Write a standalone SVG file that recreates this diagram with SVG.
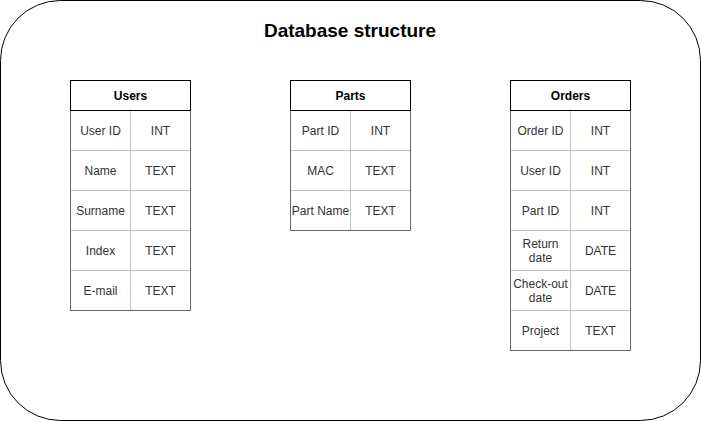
<svg xmlns="http://www.w3.org/2000/svg" width="701" height="421" viewBox="0 0 701 421">
<style>
.hdr{fill:#fff;stroke:#000;stroke-width:1}
.body{fill:#fff;stroke:#666;stroke-width:1}
.grid{stroke:#c0c0c0;stroke-width:1;fill:none}
text{font-family:"Liberation Sans",Arial,sans-serif;font-size:12px;fill:#333;text-anchor:middle;dominant-baseline:central}
.h{font-weight:bold;fill:#000}
.title{font-size:19px;font-weight:bold;fill:#000}
</style>
<rect id="container" x="0.5" y="0.5" width="700" height="420" rx="60" ry="60" fill="#fff" stroke="#000"/>
<text class="title" x="350" y="30">Database structure</text>
<g id="users">
<rect class="body" x="70.5" y="110.5" width="120" height="200"/>
<path class="grid" d="M130.5 111V310M71 150.5H190M71 190.5H190M71 230.5H190M71 270.5H190"/>
<rect class="hdr" x="70.5" y="80.5" width="120" height="30"/>
<text class="h" x="130.5" y="96">Users</text>
<text x="100.5" y="130.5">User ID</text><text x="160.5" y="130.5">INT</text>
<text x="100.5" y="170.5">Name</text><text x="160.5" y="170.5">TEXT</text>
<text x="100.5" y="210.5">Surname</text><text x="160.5" y="210.5">TEXT</text>
<text x="100.5" y="250.5">Index</text><text x="160.5" y="250.5">TEXT</text>
<text x="100.5" y="290.5">E-mail</text><text x="160.5" y="290.5">TEXT</text>
</g>
<g id="parts">
<rect class="body" x="290.5" y="110.5" width="120" height="120"/>
<path class="grid" d="M350.5 111V230M291 150.5H410M291 190.5H410"/>
<rect class="hdr" x="290.5" y="80.5" width="120" height="30"/>
<text class="h" x="350.5" y="96">Parts</text>
<text x="320.5" y="130.5">Part ID</text><text x="380.5" y="130.5">INT</text>
<text x="320.5" y="170.5">MAC</text><text x="380.5" y="170.5">TEXT</text>
<text x="320.5" y="210.5">Part Name</text><text x="380.5" y="210.5">TEXT</text>
</g>
<g id="orders">
<rect class="body" x="510.5" y="110.5" width="120" height="240"/>
<path class="grid" d="M570.5 111V350M511 150.5H630M511 190.5H630M511 230.5H630M511 270.5H630M511 310.5H630"/>
<rect class="hdr" x="510.5" y="80.5" width="120" height="30"/>
<text class="h" x="570.5" y="96">Orders</text>
<text x="540.5" y="130.5">Order ID</text><text x="600.5" y="130.5">INT</text>
<text x="540.5" y="170.5">User ID</text><text x="600.5" y="170.5">INT</text>
<text x="540.5" y="210.5">Part ID</text><text x="600.5" y="210.5">INT</text>
<text x="540.5" y="243.5">Return</text><text x="540.5" y="257.5">date</text><text x="600.5" y="250.5">DATE</text>
<text x="540.5" y="283.5">Check-out</text><text x="540.5" y="297.5">date</text><text x="600.5" y="290.5">DATE</text>
<text x="540.5" y="330.5">Project</text><text x="600.5" y="330.5">TEXT</text>
</g>
<g id="connectors"></g>
</svg>
